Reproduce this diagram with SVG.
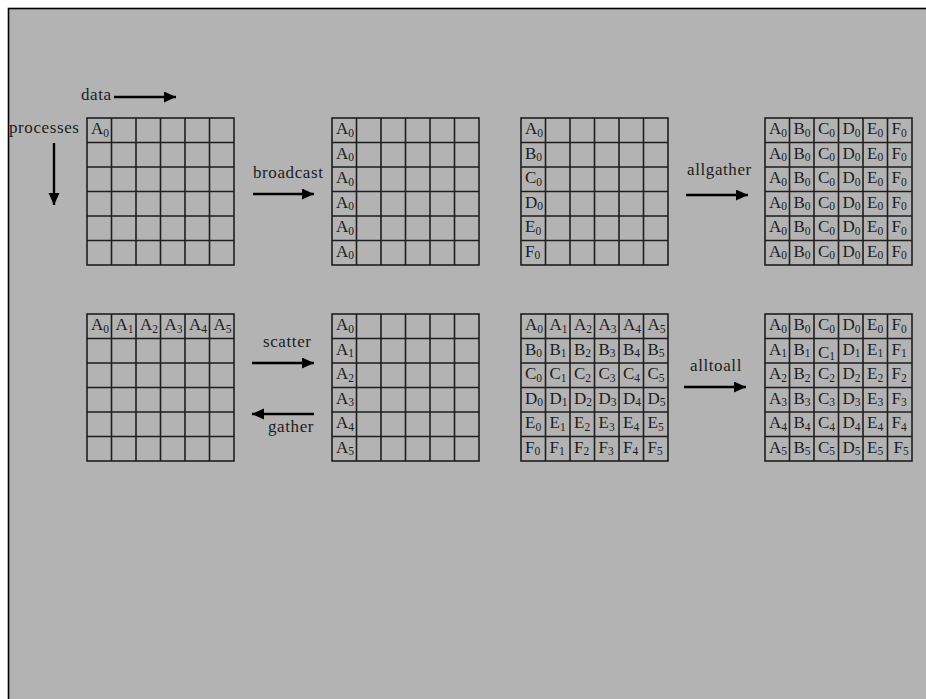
<svg xmlns="http://www.w3.org/2000/svg" xmlns:xlink="http://www.w3.org/1999/xlink" width="926" height="699" viewBox="0 0 926 699" font-family="'Liberation Serif', Tinos, 'Times New Roman', 'DejaVu Serif', serif">
<style>
text{font-family:'Liberation Serif',Tinos,'Times New Roman','DejaVu Serif',serif;font-size:17px;fill:#1c1c1c}
.lbl{letter-spacing:0.6px}
.s{font-size:11.5px}
.g{fill:none;stroke:#1e1e1e;stroke-width:1.6}
.arr{fill:none;stroke:#000;stroke-width:2.4}
</style>
<defs>
<g id="grid" class="g"><rect x="0" y="0" width="147" height="147"/><path d="M24.5 0V147M49 0V147M73.5 0V147M98 0V147M122.5 0V147M0 24.5H147M0 49H147M0 73.5H147M0 98H147M0 122.5H147"/></g>
<marker id="ah" markerUnits="userSpaceOnUse" markerWidth="14" markerHeight="12" refX="12" refY="5.5" orient="auto"><path d="M0 0L12 5.5L0 11Z" fill="#000"/></marker>
</defs>
<rect x="0" y="0" width="926" height="699" fill="#fff"/>
<rect x="8.5" y="8.5" width="930" height="700" fill="#b3b3b3" stroke="#000" stroke-width="1.6"/>

<g id="connectors">
<line class="arr" x1="114" y1="97" x2="176" y2="97" marker-end="url(#ah)"/>
<line class="arr" x1="54" y1="143" x2="54" y2="205" marker-end="url(#ah)"/>
<line class="arr" x1="253" y1="194" x2="314" y2="194" marker-end="url(#ah)"/>
<line class="arr" x1="686" y1="195" x2="748" y2="195" marker-end="url(#ah)"/>
<line class="arr" x1="252" y1="363" x2="314" y2="363" marker-end="url(#ah)"/>
<line class="arr" x1="314" y1="414" x2="252" y2="414" marker-end="url(#ah)"/>
<line class="arr" x1="684" y1="387" x2="746" y2="387" marker-end="url(#ah)"/>
<text class="lbl" x="81" y="100">data</text>
<text class="lbl" x="9" y="132.5">processes</text>
<text class="lbl" x="253" y="178">broadcast</text>
<text class="lbl" x="687" y="175">allgather</text>
<text class="lbl" x="263" y="347">scatter</text>
<text class="lbl" x="268" y="432">gather</text>
<text class="lbl" x="690" y="371">alltoall</text>
</g>

<g id="g1" transform="translate(87,118)">
<use xlink:href="#grid"/>
<text x="4" y="16">A<tspan class="s" dy="2.5">0</tspan></text>
</g>

<g id="g2" transform="translate(332,118)">
<use xlink:href="#grid"/>
<text x="4" y="16">A<tspan class="s" dy="2.5">0</tspan></text>
<text x="4" y="40.5">A<tspan class="s" dy="2.5">0</tspan></text>
<text x="4" y="65">A<tspan class="s" dy="2.5">0</tspan></text>
<text x="4" y="89.5">A<tspan class="s" dy="2.5">0</tspan></text>
<text x="4" y="114">A<tspan class="s" dy="2.5">0</tspan></text>
<text x="4" y="138.5">A<tspan class="s" dy="2.5">0</tspan></text>
</g>

<g id="g3" transform="translate(521,118)">
<use xlink:href="#grid"/>
<text x="4" y="16">A<tspan class="s" dy="2.5">0</tspan></text>
<text x="4" y="40.5">B<tspan class="s" dy="2.5">0</tspan></text>
<text x="4" y="65">C<tspan class="s" dy="2.5">0</tspan></text>
<text x="4" y="89.5">D<tspan class="s" dy="2.5">0</tspan></text>
<text x="4" y="114">E<tspan class="s" dy="2.5">0</tspan></text>
<text x="4" y="138.5">F<tspan class="s" dy="2.5">0</tspan></text>
</g>

<g id="g4" transform="translate(765,118)">
<use xlink:href="#grid"/>
<text x="4" y="16">A<tspan class="s" dy="2.5">0</tspan></text><text x="28.5" y="16">B<tspan class="s" dy="2.5">0</tspan></text><text x="53" y="16">C<tspan class="s" dy="2.5">0</tspan></text><text x="77.5" y="16">D<tspan class="s" dy="2.5">0</tspan></text><text x="102" y="16">E<tspan class="s" dy="2.5">0</tspan></text><text x="126.5" y="16">F<tspan class="s" dy="2.5">0</tspan></text>
<text x="4" y="40.5">A<tspan class="s" dy="2.5">0</tspan></text><text x="28.5" y="40.5">B<tspan class="s" dy="2.5">0</tspan></text><text x="53" y="40.5">C<tspan class="s" dy="2.5">0</tspan></text><text x="77.5" y="40.5">D<tspan class="s" dy="2.5">0</tspan></text><text x="102" y="40.5">E<tspan class="s" dy="2.5">0</tspan></text><text x="126.5" y="40.5">F<tspan class="s" dy="2.5">0</tspan></text>
<text x="4" y="65">A<tspan class="s" dy="2.5">0</tspan></text><text x="28.5" y="65">B<tspan class="s" dy="2.5">0</tspan></text><text x="53" y="65">C<tspan class="s" dy="2.5">0</tspan></text><text x="77.5" y="65">D<tspan class="s" dy="2.5">0</tspan></text><text x="102" y="65">E<tspan class="s" dy="2.5">0</tspan></text><text x="126.5" y="65">F<tspan class="s" dy="2.5">0</tspan></text>
<text x="4" y="89.5">A<tspan class="s" dy="2.5">0</tspan></text><text x="28.5" y="89.5">B<tspan class="s" dy="2.5">0</tspan></text><text x="53" y="89.5">C<tspan class="s" dy="2.5">0</tspan></text><text x="77.5" y="89.5">D<tspan class="s" dy="2.5">0</tspan></text><text x="102" y="89.5">E<tspan class="s" dy="2.5">0</tspan></text><text x="126.5" y="89.5">F<tspan class="s" dy="2.5">0</tspan></text>
<text x="4" y="114">A<tspan class="s" dy="2.5">0</tspan></text><text x="28.5" y="114">B<tspan class="s" dy="2.5">0</tspan></text><text x="53" y="114">C<tspan class="s" dy="2.5">0</tspan></text><text x="77.5" y="114">D<tspan class="s" dy="2.5">0</tspan></text><text x="102" y="114">E<tspan class="s" dy="2.5">0</tspan></text><text x="126.5" y="114">F<tspan class="s" dy="2.5">0</tspan></text>
<text x="4" y="138.5">A<tspan class="s" dy="2.5">0</tspan></text><text x="28.5" y="138.5">B<tspan class="s" dy="2.5">0</tspan></text><text x="53" y="138.5">C<tspan class="s" dy="2.5">0</tspan></text><text x="77.5" y="138.5">D<tspan class="s" dy="2.5">0</tspan></text><text x="102" y="138.5">E<tspan class="s" dy="2.5">0</tspan></text><text x="126.5" y="138.5">F<tspan class="s" dy="2.5">0</tspan></text>
</g>

<g id="g5" transform="translate(87,314)">
<use xlink:href="#grid"/>
<text x="4" y="16">A<tspan class="s" dy="2.5">0</tspan></text><text x="28.5" y="16">A<tspan class="s" dy="2.5">1</tspan></text><text x="53" y="16">A<tspan class="s" dy="2.5">2</tspan></text><text x="77.5" y="16">A<tspan class="s" dy="2.5">3</tspan></text><text x="102" y="16">A<tspan class="s" dy="2.5">4</tspan></text><text x="126.5" y="16">A<tspan class="s" dy="2.5">5</tspan></text>
</g>

<g id="g6" transform="translate(332,314)">
<use xlink:href="#grid"/>
<text x="4" y="16">A<tspan class="s" dy="2.5">0</tspan></text>
<text x="4" y="40.5">A<tspan class="s" dy="2.5">1</tspan></text>
<text x="4" y="65">A<tspan class="s" dy="2.5">2</tspan></text>
<text x="4" y="89.5">A<tspan class="s" dy="2.5">3</tspan></text>
<text x="4" y="114">A<tspan class="s" dy="2.5">4</tspan></text>
<text x="4" y="138.5">A<tspan class="s" dy="2.5">5</tspan></text>
</g>

<g id="g7" transform="translate(521,314)">
<use xlink:href="#grid"/>
<text x="4" y="16">A<tspan class="s" dy="2.5">0</tspan></text><text x="28.5" y="16">A<tspan class="s" dy="2.5">1</tspan></text><text x="53" y="16">A<tspan class="s" dy="2.5">2</tspan></text><text x="77.5" y="16">A<tspan class="s" dy="2.5">3</tspan></text><text x="102" y="16">A<tspan class="s" dy="2.5">4</tspan></text><text x="126.5" y="16">A<tspan class="s" dy="2.5">5</tspan></text>
<text x="4" y="40.5">B<tspan class="s" dy="2.5">0</tspan></text><text x="28.5" y="40.5">B<tspan class="s" dy="2.5">1</tspan></text><text x="53" y="40.5">B<tspan class="s" dy="2.5">2</tspan></text><text x="77.5" y="40.5">B<tspan class="s" dy="2.5">3</tspan></text><text x="102" y="40.5">B<tspan class="s" dy="2.5">4</tspan></text><text x="126.5" y="40.5">B<tspan class="s" dy="2.5">5</tspan></text>
<text x="4" y="65">C<tspan class="s" dy="2.5">0</tspan></text><text x="28.5" y="65">C<tspan class="s" dy="2.5">1</tspan></text><text x="53" y="65">C<tspan class="s" dy="2.5">2</tspan></text><text x="77.5" y="65">C<tspan class="s" dy="2.5">3</tspan></text><text x="102" y="65">C<tspan class="s" dy="2.5">4</tspan></text><text x="126.5" y="65">C<tspan class="s" dy="2.5">5</tspan></text>
<text x="4" y="89.5">D<tspan class="s" dy="2.5">0</tspan></text><text x="28.5" y="89.5">D<tspan class="s" dy="2.5">1</tspan></text><text x="53" y="89.5">D<tspan class="s" dy="2.5">2</tspan></text><text x="77.5" y="89.5">D<tspan class="s" dy="2.5">3</tspan></text><text x="102" y="89.5">D<tspan class="s" dy="2.5">4</tspan></text><text x="126.5" y="89.5">D<tspan class="s" dy="2.5">5</tspan></text>
<text x="4" y="114">E<tspan class="s" dy="2.5">0</tspan></text><text x="28.5" y="114">E<tspan class="s" dy="2.5">1</tspan></text><text x="53" y="114">E<tspan class="s" dy="2.5">2</tspan></text><text x="77.5" y="114">E<tspan class="s" dy="2.5">3</tspan></text><text x="102" y="114">E<tspan class="s" dy="2.5">4</tspan></text><text x="126.5" y="114">E<tspan class="s" dy="2.5">5</tspan></text>
<text x="4" y="138.5">F<tspan class="s" dy="2.5">0</tspan></text><text x="28.5" y="138.5">F<tspan class="s" dy="2.5">1</tspan></text><text x="53" y="138.5">F<tspan class="s" dy="2.5">2</tspan></text><text x="77.5" y="138.5">F<tspan class="s" dy="2.5">3</tspan></text><text x="102" y="138.5">F<tspan class="s" dy="2.5">4</tspan></text><text x="126.5" y="138.5">F<tspan class="s" dy="2.5">5</tspan></text>
</g>

<g id="g8" transform="translate(765,314)">
<use xlink:href="#grid"/>
<text x="4" y="16">A<tspan class="s" dy="2.5">0</tspan></text><text x="28.5" y="16">B<tspan class="s" dy="2.5">0</tspan></text><text x="53" y="16">C<tspan class="s" dy="2.5">0</tspan></text><text x="77.5" y="16">D<tspan class="s" dy="2.5">0</tspan></text><text x="102" y="16">E<tspan class="s" dy="2.5">0</tspan></text><text x="126.5" y="16">F<tspan class="s" dy="2.5">0</tspan></text>
<text x="4" y="40.5">A<tspan class="s" dy="2.5">1</tspan></text><text x="28.5" y="40.5">B<tspan class="s" dy="2.5">1</tspan></text><text x="53" y="43.5">C<tspan class="s" dy="2.5">1</tspan></text><text x="77.5" y="40.5">D<tspan class="s" dy="2.5">1</tspan></text><text x="102" y="40.5">E<tspan class="s" dy="2.5">1</tspan></text><text x="126.5" y="40.5">F<tspan class="s" dy="2.5">1</tspan></text>
<text x="4" y="65">A<tspan class="s" dy="2.5">2</tspan></text><text x="28.5" y="65">B<tspan class="s" dy="2.5">2</tspan></text><text x="53" y="65">C<tspan class="s" dy="2.5">2</tspan></text><text x="77.5" y="65">D<tspan class="s" dy="2.5">2</tspan></text><text x="102" y="65">E<tspan class="s" dy="2.5">2</tspan></text><text x="126.5" y="65">F<tspan class="s" dy="2.5">2</tspan></text>
<text x="4" y="89.5">A<tspan class="s" dy="2.5">3</tspan></text><text x="28.5" y="89.5">B<tspan class="s" dy="2.5">3</tspan></text><text x="53" y="89.5">C<tspan class="s" dy="2.5">3</tspan></text><text x="77.5" y="89.5">D<tspan class="s" dy="2.5">3</tspan></text><text x="102" y="89.5">E<tspan class="s" dy="2.5">3</tspan></text><text x="126.5" y="89.5">F<tspan class="s" dy="2.5">3</tspan></text>
<text x="4" y="114">A<tspan class="s" dy="2.5">4</tspan></text><text x="28.5" y="114">B<tspan class="s" dy="2.5">4</tspan></text><text x="53" y="114">C<tspan class="s" dy="2.5">4</tspan></text><text x="77.5" y="114">D<tspan class="s" dy="2.5">4</tspan></text><text x="102" y="114">E<tspan class="s" dy="2.5">4</tspan></text><text x="126.5" y="114">F<tspan class="s" dy="2.5">4</tspan></text>
<text x="4" y="138.5">A<tspan class="s" dy="2.5">5</tspan></text><text x="28.5" y="138.5">B<tspan class="s" dy="2.5">5</tspan></text><text x="53" y="138.5">C<tspan class="s" dy="2.5">5</tspan></text><text x="77.5" y="138.5">D<tspan class="s" dy="2.5">5</tspan></text><text x="102" y="138.5">E<tspan class="s" dy="2.5">5</tspan></text><text x="128.5" y="138.5">F<tspan class="s" dy="2.5">5</tspan></text>
</g>
</svg>
